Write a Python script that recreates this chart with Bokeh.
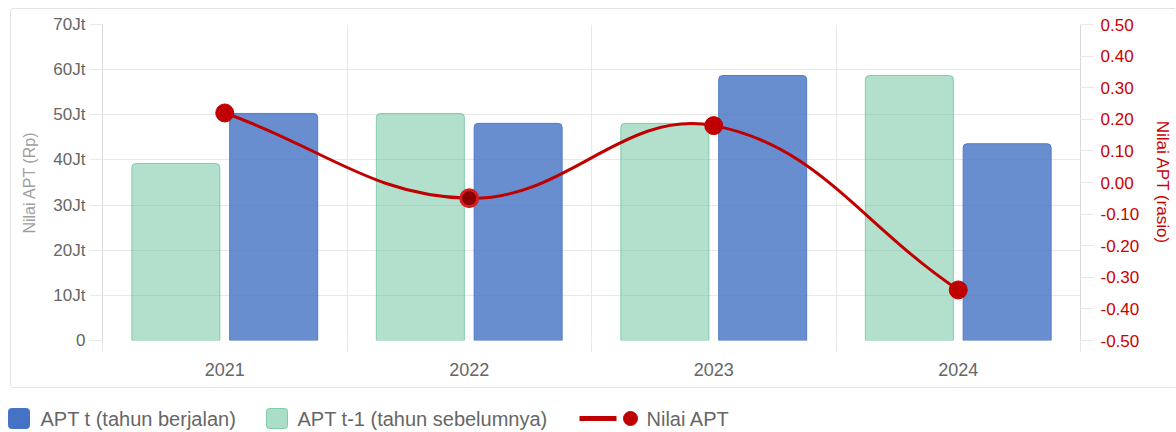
import math
import numpy as np
from bokeh.plotting import figure
from bokeh.layouts import column
from bokeh.models import (Range1d, LinearAxis, FixedTicker, ColumnDataSource,
                          PrintfTickFormatter)
from bokeh.core.properties import value
from bokeh.embed import file_html
from bokeh.resources import INLINE

# ---------------- data ----------------
years = ["2021", "2022", "2023", "2024"]
apt_t = [50.3, 48.1, 58.7, 43.6]        # APT t (tahun berjalan), in Jt Rp
apt_t1 = [39.2, 50.3, 48.1, 58.7]       # APT t-1 (tahun sebelumnya), in Jt Rp
apt_ratio = [0.22, -0.05, 0.18, -0.34]  # Nilai APT (rasio)

left_ticks = [0, 10, 20, 30, 40, 50, 60, 70]
left_tick_labels = ["0", "10Jt", "20Jt", "30Jt", "40Jt", "50Jt", "60Jt", "70Jt"]
right_ticks = [-0.5, -0.4, -0.3, -0.2, -0.1, 0.0, 0.1, 0.2, 0.3, 0.4, 0.5]

legend_labels = ["APT t (tahun berjalan)", "APT t-1 (tahun sebelumnya)", "Nilai APT"]
left_title = "Nilai APT (Rp)"
right_title = "Nilai APT (rasio)"

# ---------------- layout / style ----------------
FONT = "Liberation Sans"
W, H = 1165, 380                # main chart (inside a 1px css border)
ML, MR, MT, MB = 91, 96, 15, 49
FW, FH = W - ML - MR, H - MT - MB

BLUE = "#4472C4"
GREEN = "#66C299"
RED = "#C00000"
RED_TXT = "#CC0000"
GRID = "#e8e8e8"
AXIS = "#d9d9d9"
BOX = "#e2e2e2"

n = len(years)
xc = np.arange(n) + 0.5

p = figure(width=W, height=H, x_range=Range1d(0, n), y_range=Range1d(0, 70),
           output_backend="svg", toolbar_location=None,
           min_border_left=ML, min_border_right=MR, min_border_top=MT, min_border_bottom=MB,
           background_fill_color="white", border_fill_color="white",
           outline_line_color=None, margin=(8, 0, 0, 10), frame_align=False,
           styles={"border-top": f"1px solid {BOX}", "border-left": f"1px solid {BOX}",
                   "border-bottom": f"1px solid {BOX}",
                   "border-top-left-radius": "4px", "border-bottom-left-radius": "4px"})
p.extra_y_ranges = {"ratio": Range1d(-0.5, 0.5)}

# grid
p.xgrid.ticker = FixedTicker(ticks=list(range(n + 1)), minor_ticks=[])
p.ygrid.ticker = FixedTicker(ticks=left_ticks, minor_ticks=[])
p.xgrid.grid_line_color = GRID
p.ygrid.grid_line_color = GRID

# left axis
ya = p.yaxis[0]
ya.ticker = FixedTicker(ticks=left_ticks, minor_ticks=[])
ya.major_label_overrides = {v: l for v, l in zip(left_ticks, left_tick_labels)}
ya.axis_line_color = AXIS
ya.major_tick_line_color = GRID
ya.major_tick_out = 13
ya.major_tick_in = 0
ya.major_label_standoff = 4
ya.major_label_text_font = FONT
ya.major_label_text_font_size = "17px"
ya.major_label_text_color = "#666666"
ya.axis_label = left_title
ya.axis_label_text_font = FONT
ya.axis_label_text_font_size = "16px"
ya.axis_label_text_font_style = "normal"
ya.axis_label_text_color = "#a0a0a0"
ya.axis_label_standoff = 12

# right axis
ra = LinearAxis(y_range_name="ratio",
                ticker=FixedTicker(ticks=right_ticks, minor_ticks=[]),
                formatter=PrintfTickFormatter(format="%.2f"))
ra.axis_line_color = AXIS
ra.major_tick_line_color = GRID
ra.major_tick_out = 13
ra.major_tick_in = 0
ra.major_label_standoff = 7
ra.major_label_text_font = FONT
ra.major_label_text_font_size = "17px"
ra.major_label_text_color = RED_TXT
ra.axis_label = right_title
ra.axis_label_text_font = FONT
ra.axis_label_text_font_size = "17px"
ra.axis_label_text_font_style = "normal"
ra.axis_label_text_color = RED_TXT
ra.axis_label_standoff = 11
p.add_layout(ra, "right")

# bottom: first axis = tick stubs at the category boundaries (no labels)
sa = p.xaxis[0]
sa.ticker = FixedTicker(ticks=list(range(n + 1)), minor_ticks=[])
sa.major_label_overrides = {i: "" for i in range(n + 1)}
sa.major_label_text_font_size = "0px"
sa.major_label_standoff = 0
sa.axis_line_color = None
sa.major_tick_line_color = GRID
sa.major_tick_out = 12
sa.major_tick_in = 0

# second bottom axis = year labels
xa = LinearAxis(ticker=FixedTicker(ticks=xc.tolist(), minor_ticks=[]))
xa.major_label_overrides = {float(x): y for x, y in zip(xc, years)}
xa.axis_line_color = None
xa.major_tick_line_color = None
xa.major_tick_out = 0
xa.major_tick_in = 0
xa.major_label_standoff = 10
xa.major_label_text_font = FONT
xa.major_label_text_font_size = "18px"
xa.major_label_text_color = "#666666"
p.add_layout(xa, "below")

# ---------------- bars ----------------
src = ColumnDataSource(dict(xc=xc, x_prev=xc - 0.2, x_cur=xc + 0.2,
                            t=apt_t, t1=apt_t1, r=apt_ratio,
                            pfill=[RED, "#8B0000", RED, RED],
                            pline=[RED, "#D42020", RED, RED],
                            plw=[1, 3, 1, 1],
                            psize=[18, 17, 18, 18]))
p.vbar(x="x_prev", top="t1", bottom=0, width=0.36, source=src,
       fill_color=GREEN, fill_alpha=0.5, line_color=GREEN, line_alpha=0.75,
       line_width=1, border_radius=(4, 4, 0, 0))
p.vbar(x="x_cur", top="t", bottom=0, width=0.36, source=src,
       fill_color=BLUE, fill_alpha=0.8, line_color=BLUE, line_alpha=0.85,
       line_width=1, border_radius=(4, 4, 0, 0))

# ---------------- smooth line (Chart.js-like spline, tension 0.4) ----------------
tension = 0.4
sx, sy = FW / n, FH / 1.0
P = [(x * sx, y * sy) for x, y in zip(xc, apt_ratio)]
cprev, cnext = [], []
for i in range(n):
    prv = P[i - 1] if i > 0 else P[i]
    cur = P[i]
    nxt = P[i + 1] if i < n - 1 else P[i]
    d01 = math.hypot(cur[0] - prv[0], cur[1] - prv[1])
    d12 = math.hypot(nxt[0] - cur[0], nxt[1] - cur[1])
    s01 = d01 / (d01 + d12)
    s12 = d12 / (d01 + d12)
    fa, fb = tension * s01, tension * s12
    cprev.append((cur[0] - fa * (nxt[0] - prv[0]), cur[1] - fa * (nxt[1] - prv[1])))
    cnext.append((cur[0] + fb * (nxt[0] - prv[0]), cur[1] + fb * (nxt[1] - prv[1])))

bz = dict(x0=[], y0=[], x1=[], y1=[], cx0=[], cy0=[], cx1=[], cy1=[])
for i in range(n - 1):
    bz["x0"].append(P[i][0] / sx); bz["y0"].append(P[i][1] / sy)
    bz["x1"].append(P[i + 1][0] / sx); bz["y1"].append(P[i + 1][1] / sy)
    bz["cx0"].append(cnext[i][0] / sx); bz["cy0"].append(cnext[i][1] / sy)
    bz["cx1"].append(cprev[i + 1][0] / sx); bz["cy1"].append(cprev[i + 1][1] / sy)
p.bezier(x0="x0", y0="y0", x1="x1", y1="y1", cx0="cx0", cy0="cy0", cx1="cx1", cy1="cy1",
         source=ColumnDataSource(bz), y_range_name="ratio",
         line_color=RED, line_width=3)
p.scatter(x="xc", y="r", source=src, y_range_name="ratio", marker="circle",
          size="psize", fill_color="pfill", line_color="pline", line_width="plw")

# ---------------- legend strip (its own small figure, pixel coordinates) ----------------
LW, LH = 1176, 42
lg = figure(width=LW, height=LH, x_range=Range1d(0, LW), y_range=Range1d(LH, 0),
            output_backend="svg", toolbar_location=None,
            x_axis_type=None, y_axis_type=None, frame_align=False,
            min_border=0, min_border_left=0, min_border_right=0,
            min_border_top=0, min_border_bottom=0,
            background_fill_color="white", border_fill_color="white",
            outline_line_color=None)
lg.grid.visible = False
ly = 30
lg.quad(left=[8], right=[29], top=[ly - 10], bottom=[ly + 10],
        fill_color=BLUE, line_color=BLUE, border_radius=3)
lg.quad(left=[266], right=[287], top=[ly - 10], bottom=[ly + 10],
        fill_color=GREEN, fill_alpha=0.55, line_color=GREEN, line_alpha=0.8,
        border_radius=3)
lg.segment(x0=[579], y0=[ly], x1=[616], y1=[ly], line_color=RED, line_width=5)
lg.scatter(x=[630], y=[ly], size=14, marker="circle", fill_color=RED, line_color=RED)
lg.text(x=[40, 297, 646], y=[ly, ly, ly], text=legend_labels,
        text_font=value(FONT), text_font_size=value("20px"),
        text_baseline="middle", text_align="left", text_color="#666666")

layout = column(p, lg, spacing=0)
open("out.html", "w").write(file_html(layout, INLINE))
